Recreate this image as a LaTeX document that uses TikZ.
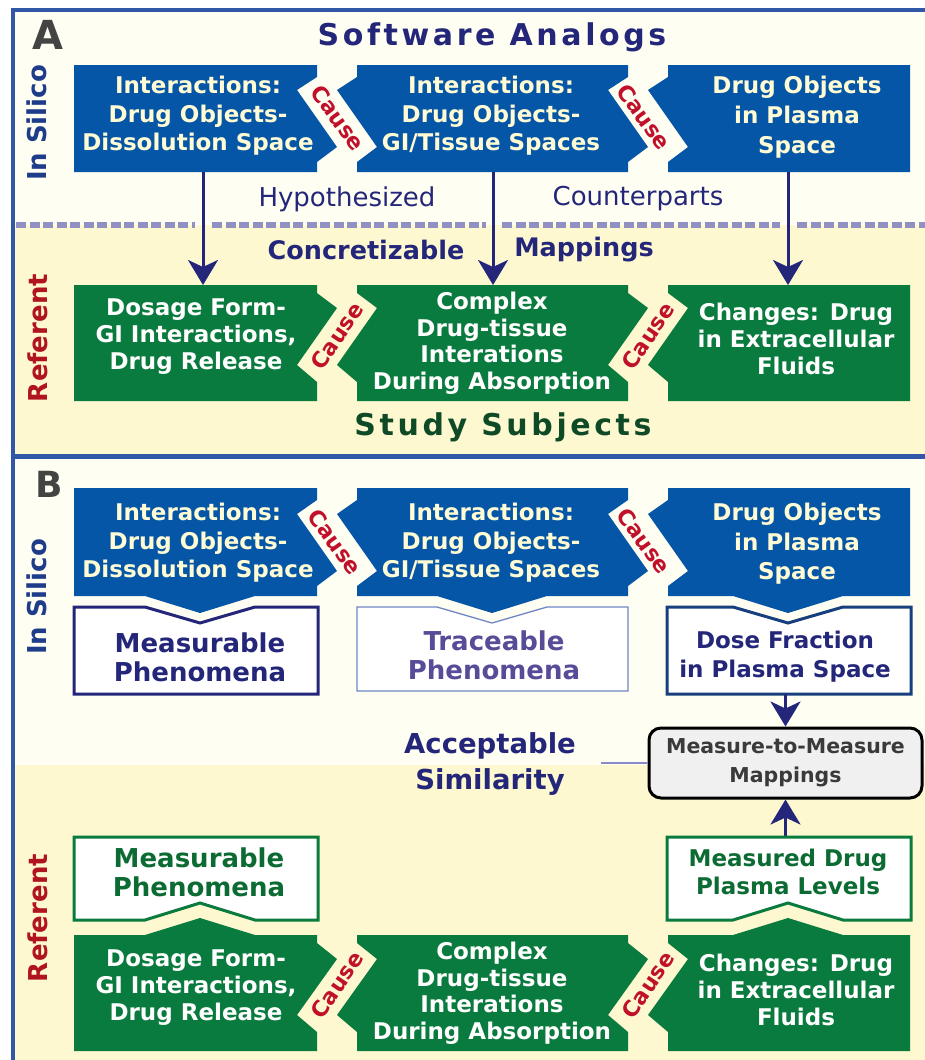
\documentclass[tikz,border=0pt]{standalone}
\usepackage{fontspec}
\usepackage{graphicx}
\setmainfont{DejaVu Sans}
\newfontfamily\ttlfont[LetterSpace=12]{DejaVu Sans}
\usetikzlibrary{arrows.meta}
\definecolor{frameblue}{HTML}{3157A8}
\definecolor{cream}{HTML}{FFFEF3}
\definecolor{ylw}{HTML}{FDF8CF}
\definecolor{boxblue}{HTML}{0556A6}
\definecolor{boxgreen}{HTML}{0A7B3E}
\definecolor{paletxt}{HTML}{FFFBD4}
\definecolor{navy}{HTML}{24267A}
\definecolor{causered}{HTML}{C0102A}
\definecolor{siliblue}{HTML}{1E3C8A}
\definecolor{refred}{HTML}{B0141E}
\definecolor{dashc}{HTML}{9090C2}
\definecolor{dkgreen}{HTML}{0E4A26}
\definecolor{mgreen}{HTML}{0B6B32}
\definecolor{trace}{HTML}{574C97}
\definecolor{tracebd}{HTML}{6F86C4}
\definecolor{doseb}{HTML}{173F7E}
\definecolor{lettergray}{HTML}{444444}
\definecolor{mmfill}{HTML}{F0F0F0}
\definecolor{mmtext}{HTML}{3A3A3A}
\definecolor{simline}{HTML}{8A8AC6}
\tikzset{
  boxtxt/.style={align=center, inner sep=0pt, font=\bfseries\fontsize{23}{28.5}\selectfont},
  bluetxt/.style={boxtxt, text=paletxt},
  greentxt/.style={boxtxt, text=white, font=\bfseries\fontsize{23}{27}\selectfont},
  causetxt/.style={inner sep=0pt, text=causered, font=\bfseries\fontsize{22}{22}\selectfont},
  sidetxt/.style={inner sep=0pt, rotate=90, font=\bfseries\fontsize{26}{26}\selectfont},
  midlbl/.style={inner sep=0pt, text=navy, font=\fontsize{26}{26}\selectfont},
  midlblb/.style={inner sep=0pt, text=navy, font=\bfseries\fontsize{25.5}{25.5}\selectfont},
  ttl/.style={inner sep=0pt, font=\ttlfont\bfseries\fontsize{30}{30}\selectfont},
  phen/.style={align=center, inner sep=0pt, font=\bfseries\fontsize{26}{29}\selectfont},
  arr/.style={navy, line width=3pt, -{Stealth[length=25pt,width=30pt,inset=7pt]}},
  dashln/.style={dashc, line width=6pt, dash pattern=on 10pt off 3.5pt},
  bluebox/.style={fill=boxblue},
  greenbox/.style={fill=boxgreen},
  whitebox/.style={fill=white, line width=3pt, line join=miter},
  mmbox/.style={draw=black, line width=3pt, fill=mmfill, rounded corners=12pt,
     minimum width=273pt, minimum height=70pt, align=center, inner sep=0pt,
     text=mmtext, font=\bfseries\fontsize{20.5}{29}\selectfont},
}
\begin{document}
\begin{tikzpicture}[x=1pt,y=-1pt]
\useasboundingbox (0,0) rectangle (925,1060);
\clip (0,0) rectangle (925,1060);
% backgrounds
\fill[white] (0,0) rectangle (925,1060);
\fill[cream] (13,10) rectangle (930,225);
\fill[ylw] (13,225) rectangle (930,456);
\fill[cream] (13,456) rectangle (930,765);
\fill[ylw] (13,765) rectangle (930,1065);
% frame
\draw[frameblue, line width=3.5pt] (935,10) -- (13,10) -- (13,1070);
\draw[frameblue, line width=5pt] (13,456) -- (935,456);
% dashed separator in A
\draw[dashln] (16,225) -- (195,225);
\draw[dashln] (212,225) -- (486,225);
\draw[dashln] (502,225) -- (780,225);
\draw[dashln] (797,225) -- (930,225);

% ---------- Panel A ----------
\node[inner sep=0pt, text=lettergray, font=\bfseries\fontsize{40}{40}\selectfont] (lA) at (48,35) {A};
\node[ttl, text=navy] (tSA) at (492,37) {Software Analogs};
\node[sidetxt, text=siliblue] (isA) at (37,123) {In Silico};
\node[sidetxt, text=refred] (refA) at (38,338) {Referent};

% blue row A
\fill[bluebox] (74,65) -- (317,65) -- (317,77) -- (297,90) -- (337,147) -- (317,162) -- (317,172) -- (74,172) -- cycle;
\fill[bluebox] (357,65) -- (628,65) -- (628,77) -- (608,90) -- (648,147) -- (628,162) -- (628,172) -- (357,172) -- (357,162) -- (377,147) -- (337,90) -- (357,77) -- cycle;
\fill[bluebox] (668,65) -- (910,65) -- (910,172) -- (668,172) -- (668,162) -- (688,147) -- (648,90) -- (668,77) -- cycle;
\node[bluetxt] (ab1) at (198,116) {Interactions:\\Drug Objects-\\Dissolution Space};
\node[bluetxt] (ab2) at (491,116) {Interactions:\\Drug Objects-\\GI/Tissue Spaces};
\node[bluetxt, font=\bfseries\fontsize{23}{30}\selectfont] (ab3) at (797,117) {Drug Objects\\in Plasma\\Space};
\node[causetxt, rotate=-54] (ac1) at (338,118) {Cause};
\node[causetxt, rotate=-54] (ac2) at (644,117) {Cause};

% green row A
\fill[greenbox] (74,285) -- (317,285) -- (317,293) -- (337,308) -- (297,365) -- (317,382) -- (317,401) -- (74,401) -- cycle;
\fill[greenbox] (357,285) -- (628,285) -- (628,293) -- (648,308) -- (608,365) -- (628,382) -- (628,401) -- (357,401) -- (357,382) -- (337,365) -- (377,308) -- (357,293) -- cycle;
\fill[greenbox] (668,285) -- (910,285) -- (910,401) -- (668,401) -- (668,382) -- (648,365) -- (688,308) -- (668,293) -- cycle;
\node[greentxt] (ag1) at (196,337) {Dosage Form-\\GI Interactions,\\Drug Release};
\node[greentxt, font=\bfseries\fontsize{23}{26.5}\selectfont] (ag2) at (492,343) {Complex\\Drug-tissue\\Interations\\During Absorption};
\node[greentxt] (ag3) at (796,339) {Changes: Drug\\in Extracellular\\Fluids};
\node[causetxt, rotate=56] (agc1) at (337,336) {Cause};
\node[causetxt, rotate=56] (agc2) at (648,336) {Cause};
\node[ttl, text=dkgreen] (tSS) at (503,427) {Study Subjects};

% labels A
\node[midlbl] (hyp) at (347,199) {Hypothesized};
\node[midlbl] (cnt) at (638,199) {Counterparts};
\node[midlblb] (con) at (366,250) {Concretizable};
\node[midlblb] (map) at (584,250) {Mappings};

% arrows A
\coordinate (a1s) at (203,172); \coordinate (a1e) at (203,285);
\coordinate (a2s) at (493,172); \coordinate (a2e) at (493,285);
\coordinate (a3s) at (788,172); \coordinate (a3e) at (788,285);
\draw[arr] (a1s) -- (a1e);
\draw[arr] (a2s) -- (a2e);
\draw[arr] (a3s) -- (a3e);

% ---------- Panel B ----------
\node[inner sep=0pt, text=lettergray, font=\bfseries\fontsize{36}{36}\selectfont] (lB) at (49,484) {B};
\node[sidetxt, text=siliblue] (isB) at (37,597) {In Silico};
\node[sidetxt, text=refred] (refB) at (38,918) {Referent};

% blue row B
\fill[bluebox] (74,488) -- (317,488) -- (317,500) -- (297,514) -- (337,571) -- (317,586) -- (317,596) -- (255,596) -- (200,613) -- (145,596) -- (74,596) -- cycle;
\fill[bluebox] (357,488) -- (628,488) -- (628,500) -- (608,514) -- (648,571) -- (628,586) -- (628,596) -- (547,596) -- (492,613) -- (437,596) -- (357,596) -- (357,586) -- (377,571) -- (337,514) -- (357,500) -- cycle;
\fill[bluebox] (668,488) -- (910,488) -- (910,596) -- (843,596) -- (788,613) -- (733,596) -- (668,596) -- (668,586) -- (688,571) -- (648,514) -- (668,500) -- cycle;
\node[bluetxt] (bb1) at (198,543) {Interactions:\\Drug Objects-\\Dissolution Space};
\node[bluetxt] (bb2) at (491,543) {Interactions:\\Drug Objects-\\GI/Tissue Spaces};
\node[bluetxt, font=\bfseries\fontsize{23}{29.5}\selectfont] (bb3) at (797,544) {Drug Objects\\in Plasma\\Space};
\node[causetxt, rotate=-54] (bc1) at (335,542) {Cause};
\node[causetxt, rotate=-54] (bc2) at (644,541) {Cause};

% white boxes B (in silico)
\draw[whitebox, draw=navy] (74,607) -- (145,607) -- (200,623) -- (255,607) -- (318,607) -- (318,694) -- (74,694) -- cycle;
\draw[whitebox, draw=tracebd, line width=1.3pt] (357,607) -- (437,607) -- (492,623) -- (547,607) -- (628,607) -- (628,691) -- (357,691) -- cycle;
\draw[whitebox, draw=doseb] (667,607) -- (733,607) -- (788,623) -- (843,607) -- (911,607) -- (911,694) -- (667,694) -- cycle;
\node[phen, text=navy] (mp1) at (200,657) {Measurable\\Phenomena};
\node[phen, text=trace] (tp) at (494,655) {Traceable\\Phenomena};
\node[phen, text=navy, font=\bfseries\fontsize{23}{29}\selectfont] (dose) at (785,657) {Dose Fraction\\in Plasma Space};

% measure-to-measure
\node[mmbox] (mm) at (785.5,763) {Measure-to-Measure\\Mappings};
\node[align=center, inner sep=0pt, text=navy, font=\bfseries\fontsize{27.5}{36}\selectfont] (acc) at (490,764) {Acceptable\\Similarity};
\coordinate (simend) at (601,763);
\draw[simline, line width=2pt] (simend) -- (mm.west);
\coordinate (doseb) at (785.5,694);
\draw[arr] (doseb) -- (mm.north);
\coordinate (mdt) at (785.5,837);
\draw[arr] (mdt) -- (mm.south);

% white boxes B (referent)
\draw[whitebox, draw=boxgreen] (74,837) -- (318,837) -- (318,920) -- (255,920) -- (200,903) -- (145,920) -- (74,920) -- cycle;
\draw[whitebox, draw=boxgreen] (667,837) -- (911,837) -- (911,920) -- (843,920) -- (788,903) -- (733,920) -- (667,920) -- cycle;
\node[phen, text=mgreen] (mp2) at (199,872) {Measurable\\Phenomena};
\node[phen, text=mgreen, font=\bfseries\fontsize{23}{28}\selectfont] (mdl) at (788,872) {Measured Drug\\Plasma Levels};

% green row B
\fill[greenbox] (74,935) -- (145,935) -- (200,918) -- (255,935) -- (317,935) -- (317,943) -- (337,959) -- (297,1015) -- (317,1032) -- (317,1051) -- (74,1051) -- cycle;
\fill[greenbox] (357,935) -- (628,935) -- (628,943) -- (648,959) -- (608,1015) -- (628,1032) -- (628,1051) -- (357,1051) -- (357,1032) -- (337,1015) -- (377,959) -- (357,943) -- cycle;
\fill[greenbox] (668,935) -- (733,935) -- (788,918) -- (843,935) -- (910,935) -- (910,1051) -- (668,1051) -- (668,1032) -- (648,1015) -- (688,959) -- (668,943) -- cycle;
\node[greentxt] (bg1) at (196,988) {Dosage Form-\\GI Interactions,\\Drug Release};
\node[greentxt, font=\bfseries\fontsize{23}{26.5}\selectfont] (bg2) at (492,993) {Complex\\Drug-tissue\\Interations\\During Absorption};
\node[greentxt] (bg3) at (796,990) {Changes: Drug\\in Extracellular\\Fluids};
\node[causetxt, rotate=56] (bgc1) at (337,985) {Cause};
\node[causetxt, rotate=56] (bgc2) at (648,985) {Cause};
\end{tikzpicture}
\end{document}
